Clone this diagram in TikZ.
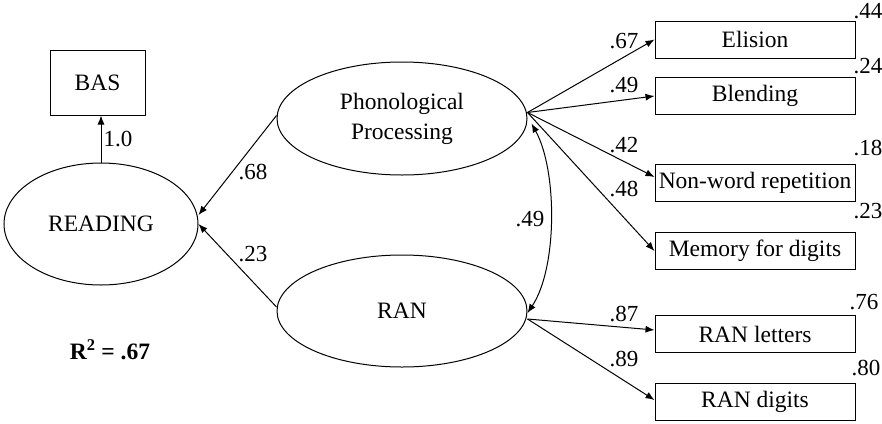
\documentclass[tikz,border=0pt]{standalone}
\usepackage{fontspec}
\setmainfont{Liberation Serif}
\usetikzlibrary{shapes.geometric,arrows.meta}
\begin{document}
\begin{tikzpicture}[x=1pt,y=-1pt,
  every node/.style={font=\fontsize{23.5}{30}\selectfont},
  lat/.style={draw,ellipse,inner sep=0pt,line width=1pt},
  obs/.style={draw,rectangle,minimum width=200pt,minimum height=37pt,inner sep=0pt,line width=1pt},
  num/.style={font=\fontsize{23}{28}\selectfont,inner sep=0pt},
  arr/.style={-{Latex[length=9pt,width=7pt]},line width=1pt},
  darr/.style={{Latex[length=9pt,width=7pt]}-{Latex[length=9pt,width=7pt]},line width=1pt}]
\useasboundingbox (0,0) rectangle (882,423);
% latent variables
\node[lat,minimum width=194pt,minimum height=122pt] (reading) at (101,224) {READING};
\node[lat,minimum width=250pt,minimum height=113pt,align=center] (pp) at (402,118.5) {Phonological\\Processing};
\node[lat,minimum width=250pt,minimum height=112pt] (ran) at (402,311) {RAN};
% observed
\node[draw,minimum width=95pt,minimum height=65pt,inner sep=0pt,line width=1pt] (bas) at (97.5,82.5) {BAS};
\node[obs] (el) at (755,39.5) {Elision};
\node[obs] (bl) at (755,96) {Blending};
\node[obs] (nw) at (755,183) {Non-word repetition};
\node[obs] (mem) at (755,251) {Memory for digits};
\node[obs] (rl) at (755,334) {RAN letters};
\node[obs] (rd) at (755,402) {RAN digits};
% connectors
\coordinate (ppo) at ([yshift=6pt]pp.east);
\coordinate (rano) at ([yshift=-8pt]ran.east);
\draw[arr] (ppo) -- (el.west);
\draw[arr] (ppo) -- (bl.west);
\draw[arr] (ppo) -- ([yshift=6pt]nw.west);
\draw[arr] (ppo) -- (mem.west);
\draw[arr] (rano) -- ([yshift=4pt]rl.west);
\draw[arr] (rano) -- ([yshift=2pt]rd.west);
\draw[arr] ([yshift=3pt]pp.west) -- ([yshift=9pt]reading.east);
\draw[arr] ([yshift=4pt]ran.west) -- (reading.east);
\draw[arr] (reading.north) -- (reading.north |- bas.south);
\draw[darr] ([shift={(4,5)}]pp.east) .. controls +(26,47) and +(30,-45) .. ([yshift=-2pt]ran.east);
% labels
\node[num] (l10) at (118,139) {1.0};
\node[num] (l68) at (253,172) {.68};
\node[num] (l23) at (253,254) {.23};
\node[num] (l49c) at (530,219) {.49};
\node[num] (l67) at (624,41) {.67};
\node[num] (l49) at (624,85) {.49};
\node[num] (l42) at (624,145) {.42};
\node[num] (l48) at (624,189) {.48};
\node[num] (l87) at (624,314) {.87};
\node[num] (l89) at (624,359) {.89};
\node[num] (e44) at (868,11) {.44};
\node[num] (e24) at (868,66) {.24};
\node[num] (e18) at (868,148) {.18};
\node[num] (e23) at (868,211) {.23};
\node[num] (e76) at (864,302) {.76};
\node[num] (e80) at (866,368) {.80};
\node[font=\bfseries\fontsize{23.5}{28}\selectfont] (r2) at (110,350) {R\textsuperscript{2} = .67};
\end{tikzpicture}
\end{document}
